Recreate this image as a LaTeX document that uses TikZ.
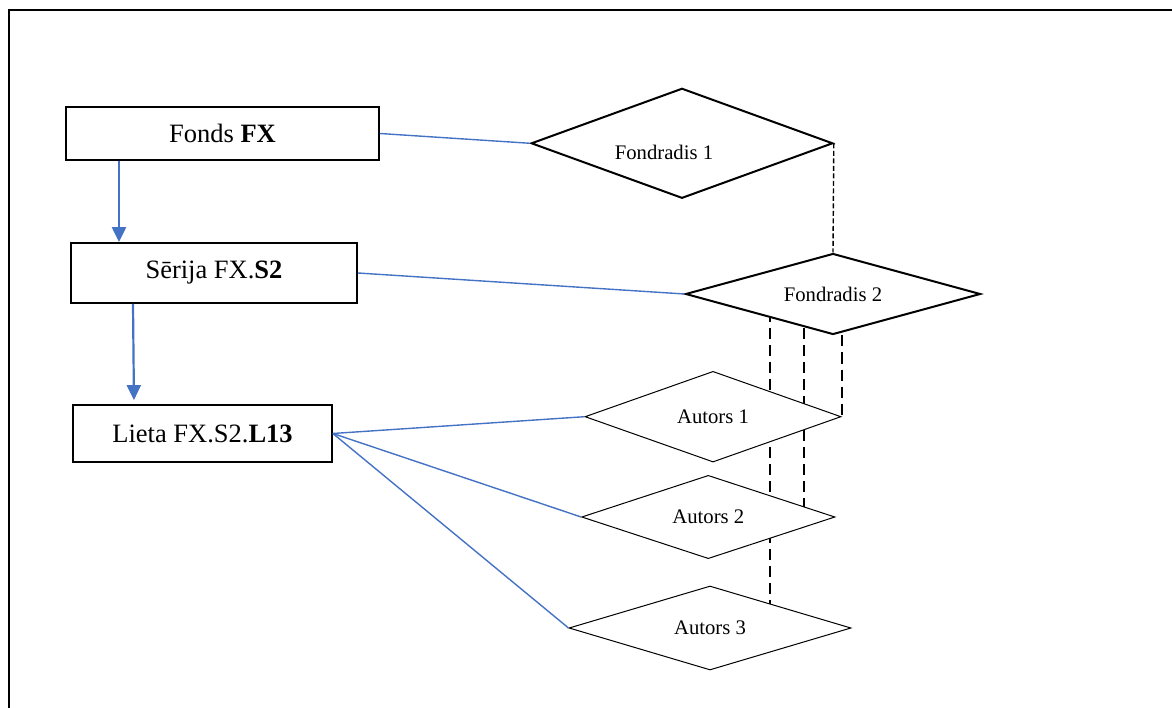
\documentclass[tikz,border=0pt]{standalone}
\usepackage{fontspec}
\setmainfont{Liberation Serif}
\usetikzlibrary{shapes.geometric,arrows.meta,backgrounds}
\definecolor{lnblue}{RGB}{68,114,196}
\tikzset{
  boxnode/.style={draw=black,line width=1.8pt,rectangle,inner sep=0pt,fill=white,
    font=\fontsize{26.5}{30}\selectfont},
  relthick/.style={draw=black,line width=2pt,diamond,aspect=3,inner sep=0pt,fill=white,
    font=\fontsize{20.7}{24}\selectfont},
  relthin/.style={draw=black,line width=1pt,diamond,aspect=3,inner sep=0pt,fill=white,
    font=\fontsize{20.7}{24}\selectfont},
  plaintext/.style={inner sep=0pt,font=\fontsize{20.7}{24}\selectfont},
  hierarrow/.style={draw=lnblue,line width=2.2pt,-{Triangle[width=14pt,length=15pt]}},
  bluelink/.style={draw=lnblue,line width=1.4pt},
  thindash/.style={draw=black,line width=1.4pt,dash pattern=on 5pt off 2.5pt},
  thickdash/.style={draw=black,line width=2pt,dash pattern=on 11pt off 6pt},
}
\begin{document}
\begin{tikzpicture}[x=1pt,y=-1pt]
\useasboundingbox (0,0) rectangle (1172,708);
% frame
\draw[line width=2pt] (1172,10) -- (9,10) -- (9,708);

% boxes
\node[boxnode,minimum width=313pt,minimum height=53pt] (b1) at (222.5,133.5) {Fonds \textbf{FX}};
\node[boxnode,minimum width=286pt,minimum height=60pt] (b2) at (214,273) {Sērija FX.\textbf{S2}};
\node[boxnode,minimum width=259pt,minimum height=57pt] (b3) at (202.5,433.5) {Lieta FX.S2.\textbf{L13}};

% diamonds
\node[relthick,minimum width=301.6pt,minimum height=110pt] (f1) at (682,143.3) {};
\node[plaintext] (f1t) at (664,152) {Fondradis 1};
\node[relthick,minimum width=295pt,minimum height=81pt] (f2) at (833,294) {Fondradis 2};
\node[relthin,minimum width=256pt,minimum height=90.7pt] (a1) at (713,416.7) {Autors 1};
\node[relthin,minimum width=253.3pt,minimum height=83.3pt] (a2) at (708.3,517) {Autors 2};
\node[relthin,minimum width=282pt,minimum height=84pt] (a3) at (710,628) {Autors 3};

% helper x positions
\coordinate (xa) at (770,0);
\coordinate (xb) at (804,0);

% dashed links (behind the white-filled diamonds)
\begin{pgfonlayer}{background}
\draw[thickdash] (f2.center -| xa) -- (a3.center -| xa);
\draw[thickdash] (f2.center -| xb) -- (a2.center -| xb);
\end{pgfonlayer}
\draw[thickdash] (a1.east |- f2.south) -- (a1.east);
\draw[thindash] (f1.east) -- (f2.north);

% hierarchy arrows
\draw[hierarrow] ([xshift=-103.5pt]b1.south) -- ([xshift=-95pt]b2.north);
\draw[hierarrow,shorten >=4pt] ([xshift=-81pt]b2.south) -- ([xshift=-68.5pt]b3.north);

% blue links
\draw[bluelink] (b1.east) -- (f1.west);
\draw[bluelink] (b2.east) -- (f2.west);
\draw[bluelink] (b3.east) -- (a1.west);
\draw[bluelink] (b3.east) -- (a2.west);
\draw[bluelink] (b3.east) -- (a3.west);
\end{tikzpicture}
\end{document}
